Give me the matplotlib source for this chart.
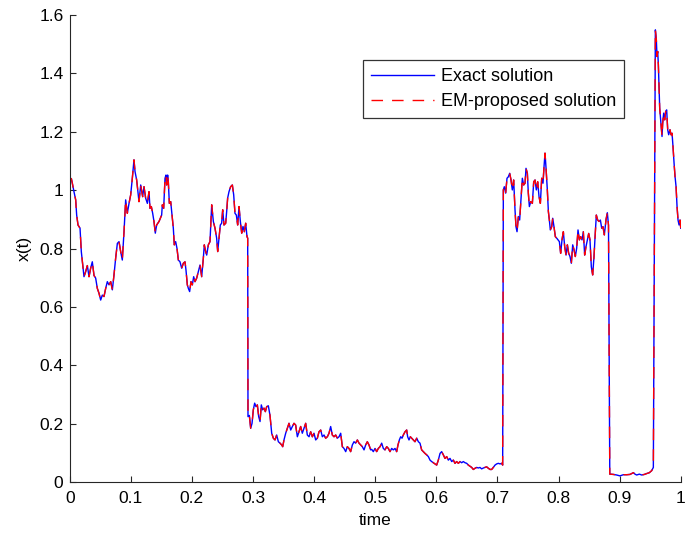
import matplotlib
matplotlib.use("Agg")
import matplotlib.pyplot as plt

# sample times and path values (exact solution)
t = [
    0.0000, 0.0027, 0.0043, 0.0070, 0.0098, 0.0114, 0.0136, 0.0169, 0.0190, 0.0218,
    0.0234, 0.0261, 0.0289, 0.0316, 0.0343, 0.0370, 0.0398, 0.0425, 0.0452, 0.0480,
    0.0507, 0.0534, 0.0561, 0.0589, 0.0616, 0.0643, 0.0671, 0.0698, 0.0725, 0.0752,
    0.0780, 0.0807, 0.0834, 0.0861, 0.0889, 0.0916, 0.0943, 0.0971, 0.0998, 0.1025,
    0.1052, 0.1069, 0.1096, 0.1134, 0.1162, 0.1194, 0.1216, 0.1243, 0.1271, 0.1298,
    0.1314, 0.1336, 0.1358, 0.1380, 0.1401, 0.1423, 0.1462,
    0.1483, 0.1505, 0.1516, 0.1538, 0.1560, 0.1576, 0.1587, 0.1603, 0.1614, 0.1631,
    0.1653, 0.1669, 0.1696, 0.1712, 0.1734, 0.1756, 0.1778, 0.1805, 0.1833, 0.1860,
    0.1887, 0.1903, 0.1925, 0.1942, 0.1963, 0.1985, 0.2007, 0.2029, 0.2051, 0.2078,
    0.2105, 0.2133, 0.2160, 0.2187, 0.2203, 0.2225, 0.2242, 0.2269, 0.2296, 0.2324,
    0.2351, 0.2378, 0.2405, 0.2422, 0.2444, 0.2465, 0.2487, 0.2504, 0.2525, 0.2553,
    0.2569, 0.2585, 0.2607, 0.2634, 0.2662, 0.2684, 0.2705, 0.2727, 0.2749, 0.2771,
    0.2793, 0.2815, 0.2836, 0.2858, 0.2880, 0.2902, 0.2913,
    0.2918, 0.2940, 0.2962, 0.2984, 0.3005, 0.3027, 0.3049, 0.3071, 0.3093, 0.3115,
    0.3136, 0.3158, 0.3180, 0.3202, 0.3224, 0.3251, 0.3278, 0.3306, 0.3333, 0.3360,
    0.3387, 0.3415, 0.3442, 0.3469, 0.3486, 0.3507, 0.3535, 0.3562, 0.3589, 0.3617,
    0.3644, 0.3671, 0.3698, 0.3726, 0.3753, 0.3780, 0.3807, 0.3835, 0.3862, 0.3889,
    0.3917, 0.3944, 0.3971, 0.3998, 0.4026, 0.4053, 0.4080, 0.4108, 0.4135, 0.4162,
    0.4189, 0.4217, 0.4244, 0.4271, 0.4298, 0.4326, 0.4353, 0.4380, 0.4408, 0.4435,
    0.4462, 0.4489, 0.4517, 0.4544, 0.4571, 0.4598, 0.4626, 0.4653, 0.4680, 0.4708,
    0.4735, 0.4762, 0.4789, 0.4817, 0.4844, 0.4871, 0.4898, 0.4926,
    0.4942, 0.4969, 0.4997, 0.5024, 0.5051, 0.5079, 0.5106, 0.5133, 0.5160, 0.5188,
    0.5215, 0.5242, 0.5270, 0.5297, 0.5324, 0.5351, 0.5373, 0.5395, 0.5417, 0.5439,
    0.5460, 0.5488, 0.5515, 0.5531, 0.5553, 0.5575, 0.5597, 0.5624, 0.5651, 0.5679,
    0.5706, 0.5733, 0.5760, 0.5788, 0.5815, 0.5842, 0.5870, 0.5897, 0.5924, 0.5951,
    0.5979, 0.6006, 0.6033, 0.6061, 0.6088, 0.6115, 0.6142, 0.6170, 0.6197, 0.6224,
    0.6252, 0.6279, 0.6306, 0.6333, 0.6361, 0.6388, 0.6415, 0.6442, 0.6470, 0.6497,
    0.6524, 0.6552, 0.6579, 0.6606, 0.6633, 0.6661, 0.6688, 0.6715, 0.6742, 0.6770,
    0.6797, 0.6824, 0.6852, 0.6879, 0.6906, 0.6933, 0.6961, 0.6988, 0.7015, 0.7043,
    0.7070, 0.7086,
    0.7097, 0.7113, 0.7135, 0.7157, 0.7179, 0.7201, 0.7223, 0.7244, 0.7266, 0.7288,
    0.7304, 0.7321, 0.7343, 0.7364, 0.7386, 0.7408, 0.7430, 0.7452, 0.7468, 0.7490,
    0.7506, 0.7523, 0.7545, 0.7572, 0.7594, 0.7616, 0.7637, 0.7659, 0.7681, 0.7703,
    0.7725, 0.7746, 0.7763, 0.7779, 0.7796, 0.7817, 0.7834, 0.7850, 0.7866, 0.7888,
    0.7905, 0.7926, 0.7948, 0.7970, 0.7992, 0.8014, 0.8035, 0.8057, 0.8079, 0.8101,
    0.8123, 0.8145, 0.8166, 0.8188, 0.8210, 0.8232, 0.8254, 0.8275, 0.8297, 0.8319,
    0.8341, 0.8363, 0.8385, 0.8406, 0.8428, 0.8450, 0.8472, 0.8494, 0.8515, 0.8537,
    0.8559, 0.8581, 0.8597, 0.8619, 0.8641, 0.8663, 0.8685, 0.8707, 0.8728, 0.8750,
    0.8778, 0.8799, 0.8818,
    0.8839, 0.8897, 0.8952, 0.9006, 0.9061, 0.9116, 0.9170, 0.9225, 0.9252, 0.9279,
    0.9323, 0.9361, 0.9405, 0.9443, 0.9487, 0.9525, 0.9552,
    0.9585, 0.9601, 0.9612, 0.9623, 0.9634, 0.9645, 0.9656, 0.9672, 0.9683, 0.9694,
    0.9705, 0.9721, 0.9738, 0.9754, 0.9770, 0.9787, 0.9803, 0.9825, 0.9841, 0.9858,
    0.9874, 0.9891, 0.9907, 0.9924, 0.9940, 0.9956, 0.9973, 0.9989, 1.0000,
]

exact_x = [
    1.035, 1.040, 1.024, 0.995, 0.967, 0.915, 0.881, 0.870, 0.790, 0.733,
    0.704, 0.721, 0.742, 0.704, 0.733, 0.755, 0.708, 0.699, 0.664, 0.647,
    0.624, 0.641, 0.636, 0.664, 0.687, 0.676, 0.687, 0.659, 0.710, 0.767,
    0.818, 0.824, 0.790, 0.761, 0.858, 0.967, 0.921, 0.955, 0.984, 1.041,
    1.104, 1.064, 1.035, 0.961, 1.018, 0.978, 1.012, 0.973, 0.955, 0.995,
    0.938, 0.944, 0.921, 0.892, 0.853, 0.881, 0.893,
    0.904, 0.915, 0.950, 0.938, 1.041, 1.052, 1.018, 1.052, 1.029, 0.955,
    0.961, 0.927, 0.870, 0.813, 0.824, 0.801, 0.761, 0.755, 0.733, 0.750,
    0.755, 0.727, 0.676, 0.664, 0.653, 0.687, 0.676, 0.704, 0.687, 0.699,
    0.721, 0.744, 0.704, 0.767, 0.813, 0.790, 0.778, 0.813, 0.824, 0.950,
    0.893, 0.870, 0.836, 0.790, 0.836, 0.881, 0.887, 0.933, 0.881, 0.887,
    0.927, 0.973, 0.995, 1.012, 1.018, 0.984, 0.921, 0.915, 0.881, 0.944,
    0.893, 0.853, 0.876, 0.858, 0.887, 0.841, 0.836,
    0.225, 0.229, 0.185, 0.202, 0.248, 0.271, 0.259, 0.265, 0.225, 0.208,
    0.265, 0.248, 0.254, 0.242, 0.259, 0.262, 0.229, 0.168, 0.151, 0.145,
    0.162, 0.139, 0.134, 0.128, 0.122, 0.145, 0.168, 0.185, 0.202, 0.179,
    0.191, 0.202, 0.196, 0.156, 0.173, 0.191, 0.168, 0.185, 0.202, 0.162,
    0.156, 0.173, 0.156, 0.168, 0.145, 0.151, 0.173, 0.179, 0.156, 0.162,
    0.151, 0.156, 0.168, 0.191, 0.162, 0.156, 0.162, 0.151, 0.156, 0.168,
    0.122, 0.116, 0.105, 0.122, 0.116, 0.105, 0.128, 0.139, 0.134, 0.145,
    0.134, 0.128, 0.122, 0.111, 0.128, 0.139, 0.128, 0.111,
    0.113, 0.105, 0.116, 0.105, 0.116, 0.122, 0.134, 0.116, 0.111, 0.122,
    0.116, 0.105, 0.116, 0.111, 0.116, 0.105, 0.128, 0.145, 0.156, 0.151,
    0.162, 0.173, 0.179, 0.156, 0.145, 0.156, 0.151, 0.145, 0.139, 0.151,
    0.139, 0.134, 0.111, 0.105, 0.099, 0.094, 0.088, 0.076, 0.071, 0.067,
    0.063, 0.059, 0.076, 0.099, 0.105, 0.094, 0.082, 0.088, 0.076, 0.082,
    0.071, 0.076, 0.065, 0.071, 0.065, 0.071, 0.067, 0.071, 0.067, 0.065,
    0.059, 0.055, 0.051, 0.044, 0.048, 0.051, 0.049, 0.051, 0.046, 0.049,
    0.051, 0.053, 0.048, 0.044, 0.044, 0.051, 0.059, 0.063, 0.065, 0.063,
    0.065, 0.059,
    1.001, 1.012, 0.990, 1.041, 1.046, 1.058, 1.035, 1.001, 1.035, 0.933,
    0.875, 0.858, 0.910, 0.898, 0.967, 1.041, 1.018, 1.024, 1.075, 1.058,
    0.990, 0.944, 0.961, 0.955, 1.029, 1.035, 1.001, 1.029, 0.978, 0.955,
    1.041, 1.024, 1.081, 1.127, 1.075, 1.001, 0.927, 0.898, 0.864, 0.875,
    0.904, 0.875, 0.841, 0.836, 0.830, 0.824, 0.784, 0.830, 0.858, 0.807,
    0.778, 0.813, 0.784, 0.773, 0.750, 0.813, 0.796, 0.773, 0.801, 0.864,
    0.830, 0.841, 0.830, 0.858, 0.778, 0.807, 0.830, 0.852, 0.830, 0.738,
    0.710, 0.773, 0.836, 0.915, 0.898, 0.893, 0.898, 0.870, 0.875, 0.847,
    0.900, 0.923, 0.880,
    0.028, 0.027, 0.025, 0.022, 0.026, 0.026, 0.027, 0.033, 0.028, 0.025,
    0.028, 0.025, 0.027, 0.030, 0.033, 0.040, 0.051,
    1.549, 1.515, 1.458, 1.475, 1.430, 1.355, 1.281, 1.241, 1.212, 1.184,
    1.230, 1.264, 1.241, 1.270, 1.275, 1.207, 1.190, 1.207, 1.190, 1.195,
    1.149, 1.093, 1.047, 1.012, 0.944, 0.898, 0.881, 0.898, 0.870,
]

# the EM path sits on top of the exact one at this resolution
em_x = list(exact_x)

x_ticks = [0, 0.1, 0.2, 0.3, 0.4, 0.5, 0.6, 0.7, 0.8, 0.9, 1]
x_tick_labels = ["0", "0.1", "0.2", "0.3", "0.4", "0.5", "0.6", "0.7", "0.8", "0.9", "1"]
y_ticks = [0, 0.2, 0.4, 0.6, 0.8, 1.0, 1.2, 1.4, 1.6]
y_tick_labels = ["0", "0.2", "0.4", "0.6", "0.8", "1", "1.2", "1.4", "1.6"]

plt.rcParams["font.family"] = ["Liberation Sans", "DejaVu Sans"]

fig = plt.figure(figsize=(6.86, 5.33), dpi=100)
ax = fig.add_axes([0.1016, 0.0951, 0.8907, 0.8768])

ax.plot(t, exact_x, color="#0000ff", lw=1.0, label="Exact solution")
ax.plot(t, em_x, color="#ff0000", lw=1.0, dashes=(8.3, 6.5), label="EM-proposed solution")

ax.set_xlim(0, 1)
ax.set_ylim(0, 1.6)
ax.set_xticks(x_ticks)
ax.set_xticklabels(x_tick_labels)
ax.set_yticks(y_ticks)
ax.set_yticklabels(y_tick_labels)
ax.tick_params(direction="in", length=4, width=0.8, labelsize=12.5, colors="#262626")
ax.tick_params(axis="x", pad=6.5)
ax.tick_params(axis="y", pad=4.5)
ax.tick_params(labelcolor="black")
for side in ("top", "right"):
    ax.spines[side].set_visible(False)
for side in ("left", "bottom"):
    ax.spines[side].set_color("#262626")
    ax.spines[side].set_linewidth(0.8)

ax.set_xlabel("time", fontsize=12.5, labelpad=5)
ax.set_ylabel("x(t)", fontsize=12.5, labelpad=5)

leg = ax.legend(loc="upper right", bbox_to_anchor=(624.3 / 686, 1 - 60 / 533),
                bbox_transform=fig.transFigure, prop={"size": 13}, frameon=True,
                fancybox=False, handlelength=3.5, handletextpad=0.38,
                borderpad=0.45, labelspacing=0.45, borderaxespad=0)
leg.get_frame().set_edgecolor("black")
leg.get_frame().set_linewidth(0.9)

fig.savefig("out.png", dpi=100)
